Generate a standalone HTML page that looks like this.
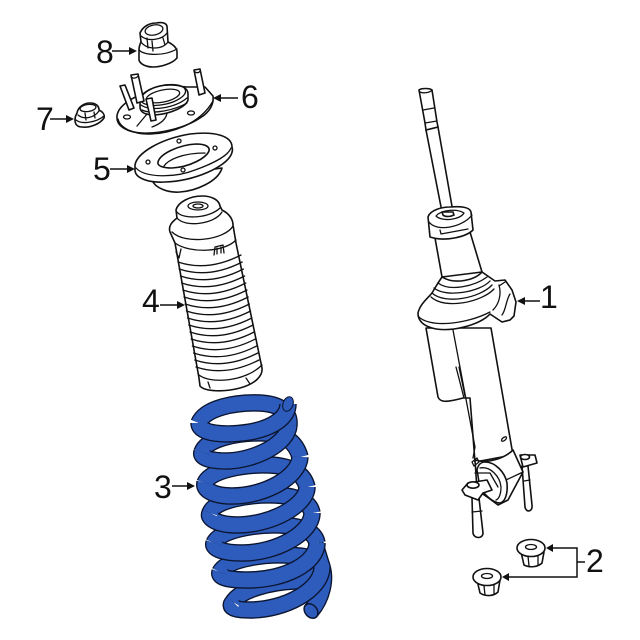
<!DOCTYPE html>
<html><head><meta charset="utf-8"><style>
html,body{margin:0;padding:0;background:#fff}
svg{display:block}
.l{fill:#fff;stroke:#111;stroke-width:1.6;stroke-linejoin:round;stroke-linecap:round}
.n{fill:none;stroke:#111;stroke-width:1.3;stroke-linejoin:round;stroke-linecap:round}
.a{fill:none;stroke:#111;stroke-width:1.5}
.h{fill:#111}
text{font-family:"Liberation Sans",sans-serif;font-size:32px;fill:#111}
.o{fill:none;stroke:#0b1530;stroke-width:17.5;stroke-linecap:butt}
.b{fill:none;stroke:#2e5cbd;stroke-width:14.8;stroke-linecap:butt}
</style></head><body>
<svg width="640" height="640" viewBox="0 0 640 640" xmlns="http://www.w3.org/2000/svg">
<rect width="640" height="640" fill="#fff"/>
<defs>
<path id="r" d="M178 262Q208 272 241 255"/>
<path id="k1" d="M199 423C205 408 235 402 260 403C280 404 290 412 289 425"/>
<path id="k2" d="M202 452C207 438 240 432 265 433C285 434 296 442 300 457"/>
<path id="k3" d="M205 483C210 470 245 464 270 465C292 466 304 474 307 487"/>
<path id="k4" d="M210 513C214 500 250 494 275 495C298 496 310 502 312 513"/>
<path id="k5" d="M214 543C220 530 255 524 280 525C302 526 315 532 317 543"/>
<path id="k6" d="M220 572C226 560 260 554 285 555C308 556 320 558 322 567"/>
<path id="k7" d="M233 602C240 590 270 582 295 581C312 580 320 575 322 567C326 580 322 598 311 611"/>
<path id="f1" d="M199 423C199 434 225 436 250 432C272 428 288 418 288 404"/>
<path id="f2" d="M289 425C288 444 255 460 228 461C210 461 200 458 202 452"/>
<path id="f3" d="M300 457C299 477 265 496 232 496C214 496 203 490 205 483"/>
<path id="f4" d="M307 487C307 505 272 525 237 525C219 525 207 519 210 513"/>
<path id="f5" d="M312 513C312 533 277 553 242 553C224 553 212 549 214 543"/>
<path id="f6" d="M317 543C317 563 285 580 248 580C230 580 218 578 220 572"/>
<path id="f7" d="M322 567C322 590 285 610 250 610C234 610 228 607 233 602"/>
</defs>

<!-- 8 -->
<path class="l" d="M139 50C139 46 140 44 141 42L140 33C143 26 150 23 156 23C162 22 166 23 167 26L168 42C174 45 177 48 177 52L177 58C172 64 160 67 153 67C146 67 140 64 139 60Z"/>
<ellipse class="n" cx="154" cy="30" rx="9" ry="5" transform="rotate(-12 154 30)"/>
<path class="n" d="M139 50C145 56 165 56 177 49M141 42C147 50 162 50 168 42M141 36C148 42 162 40 167 33M152 41L153 51M163 38L165 45M147 38L148 48"/>

<!-- 6 plate -->
<path class="l" d="M117 116C118 106 132 97 148 92L165 85L187 87L205 87L213 96C214 104 210 112 200 118C185 128 160 134 142 133C125 132 116 125 117 116Z"/>
<path class="n" d="M118 119C120 128 134 135 152 134C172 133 200 124 213 101"/>
<path class="n" d="M137 126L147 114L167 113C166 120 160 124 152 127"/>
<ellipse class="n" cx="127" cy="117" rx="3.5" ry="2"/><ellipse class="n" cx="191" cy="113" rx="3.5" ry="2"/>
<path class="l" d="M140 101C141 92 155 85 170 85C182 85 188 88 188 94L188 100C186 107 170 114 155 115C145 115 140 112 140 107Z"/>
<ellipse class="n" cx="163" cy="95" rx="23" ry="9.5" transform="rotate(-12 163 95)"/>
<ellipse class="n" cx="163" cy="96" rx="17" ry="6" transform="rotate(-12 163 96)"/>
<path class="n" d="M141 105C150 112 175 108 187 98M142 110C152 115 175 110 187 103"/>
<path class="l" d="M120 86L125 85L134 108L129 110ZM131 75L138 74L144 101L137 103ZM194 70L200 69L205 93L199 95ZM146 99L152 98L156 120L151 121Z"/>
<path class="n" d="M131 77C133 79 137 78 138 76M195 72C197 73 199 73 200 71"/>

<!-- 7 -->
<path class="l" d="M75 120C75 116 76 115 77 113C78 107 84 103 90 103C96 103 99 106 99 110C103 112 105 115 104 118C100 124 90 128 82 127C77 127 75 124 75 120Z"/>
<ellipse class="n" cx="88" cy="108" rx="8" ry="3.5" transform="rotate(-8 88 108)"/>
<path class="n" d="M76 120C82 125 97 122 104 116M78 115C84 120 94 118 99 111M85 113L86 120M94 112L95 118"/>

<!-- 5 -->
<path class="l" d="M152 180C155 188 168 193 180 192C195 191 218 182 222 168L152 178Z"/>
<path class="l" d="M135 165C137 153 160 139 190 134C215 131 232 136 232 147C233 150 232 153 231 155C225 167 195 181 165 182C148 183 135 178 135 170Z"/>
<path class="n" d="M136 168C145 178 175 178 195 170C212 164 228 156 231 148"/>
<path class="l" d="M158 162C160 154 178 145 196 144C206 144 210 147 209 151C206 158 190 167 172 168C163 168 157 166 158 162Z"/>
<path class="n" d="M164 166C168 160 182 153 205 153"/>
<circle class="n" cx="148" cy="162" r="2"/><circle class="n" cx="179" cy="141" r="2"/><circle class="n" cx="215" cy="148" r="2"/><circle class="n" cx="183" cy="170" r="2"/>

<!-- 4 -->
<path class="l" d="M175 243L170 232C168 226 172 222 177 218L176 210C178 202 190 196 202 196C212 196 219 200 220 206L222 210C230 214 233 220 233 225L236 243L262 368C263 376 255 384 240 388C225 392 205 392 200 386L199 378Z"/>
<path class="n" d="M177 212C183 220 210 218 220 208M177 218C185 228 215 224 222 212M172 232C185 245 225 240 233 226M175 243C190 254 225 252 236 240"/>
<ellipse class="n" cx="198" cy="206" rx="10" ry="4"/><ellipse class="n" cx="198" cy="206" rx="5" ry="2"/>
<path class="n" d="M214 255L215 247L223 245L224 253M217 254L217 248M221 253L221 247M176 252L179 258L181 249"/>
<g class="n">
<use href="#r"/><use href="#r" transform="translate(1.2 7)"/><use href="#r" transform="translate(2.4 14)"/><use href="#r" transform="translate(3.6 21)"/><use href="#r" transform="translate(4.8 28)"/><use href="#r" transform="translate(6 35)"/><use href="#r" transform="translate(7.2 42)"/><use href="#r" transform="translate(8.4 49)"/><use href="#r" transform="translate(9.6 56)"/><use href="#r" transform="translate(10.8 63)"/><use href="#r" transform="translate(12 70)"/><use href="#r" transform="translate(13.2 77)"/><use href="#r" transform="translate(14.4 84)"/><use href="#r" transform="translate(15.6 91)"/><use href="#r" transform="translate(16.8 98)"/><use href="#r" transform="translate(18 105)"/>
</g>
<path class="n" d="M199 375C210 384 245 382 262 365M208 382L210 388M246 378L250 384"/>

<!-- 3 spring -->
<g class="o"><use href="#k7"/><use href="#k6"/><use href="#k5"/><use href="#k4"/><use href="#k3"/><use href="#k2"/><use href="#k1"/></g>
<g class="b"><use href="#k7"/><use href="#k6"/><use href="#k5"/><use href="#k4"/><use href="#k3"/><use href="#k2"/><use href="#k1"/></g>
<use href="#f7" class="o"/><use href="#f7" class="b"/>
<use href="#f6" class="o"/><use href="#f6" class="b"/>
<use href="#f5" class="o"/><use href="#f5" class="b"/>
<use href="#f4" class="o"/><use href="#f4" class="b"/>
<use href="#f3" class="o"/><use href="#f3" class="b"/>
<use href="#f2" class="o"/><use href="#f2" class="b"/>
<use href="#f1" class="o"/><use href="#f1" class="b"/>
<ellipse cx="311" cy="611" rx="6" ry="8" transform="rotate(-40 311 611)" fill="#2e5cbd" stroke="#0b1530" stroke-width="1.5"/>
<ellipse cx="288" cy="404" rx="7.5" ry="5" transform="rotate(-70 288 404)" fill="#2e5cbd" stroke="#0b1530" stroke-width="1"/>

<!-- 1 strut -->
<path class="l" d="M426 328L438 397C440 402 445 403 463 398L470 398L475 462L513 455L491 328Z"/>
<path class="n" d="M453 330L475 447L473 458M456 367L464 398M459 367L465 396"/>
<ellipse class="n" cx="504" cy="439" rx="3" ry="1.5" transform="rotate(-40 504 439)"/>
<!-- rod -->
<path class="l" d="M426 130L442 212L453 212L438 127Z"/>
<path class="l" d="M419 90C421 88 430 88 432 90L437 122L438 127L426 130L425 123Z"/>
<path class="n" d="M419 91C421 94 430 93 432 90M423 110L434 108M425 123L437 121"/>
<!-- neck -->
<path class="l" d="M435 238L442 277L482 272L470 232Z"/>
<path class="l" d="M428 217C430 210 442 207 450 207C460 206 470 207 471 212L473 230C466 237 445 242 430 237Z"/>
<path class="n" d="M429 222C436 232 462 228 472 215M440 230L441 234L468 229"/>
<path class="n" d="M436 216C442 209 458 209 464 213C460 220 442 222 436 216Z"/>
<path class="l" d="M442 212L453 212L454 215C450 217 445 217 443 215Z"/>
<!-- mount -->
<path class="l" d="M418 313C420 304 428 298 432 293L438 283L442 277C455 285 475 280 482 272L495 281L505 280L512 290L516 302L514 316L510 320L502 322L490 314C480 325 450 333 432 328C425 326 418 322 418 313Z"/>
<path class="n" d="M432 293C445 305 480 298 492 285M434 288C446 298 480 292 490 281M438 283C450 292 475 286 487 277M431 297C445 310 482 302 494 289M418 316C428 328 465 325 490 312M499 285C502 296 498 305 493 310M510 294C506 300 506 310 502 315M499 286L505 282"/>
<!-- right bracket and stud -->
<path class="l" d="M522 466L528 466L532 505C533 512 526 513 525 507Z"/>
<path class="n" d="M524 481L530 480"/>
<path class="l" d="M520 455L535 455L537 463L523 467Z"/>
<ellipse class="l" cx="525" cy="457" rx="4.5" ry="2.5"/>
<!-- body -->
<path class="l" d="M475 460C488 464 505 458 513 450L523 472L508 500L498 505L490 499L477 490Z"/>
<path class="l" d="M477 470C478 465 481 462 485 462C495 462 505 472 507 483C508 494 505 502 500 503C493 503 485 495 480 488Z"/>
<path class="n" d="M480 468C490 466 500 476 501 487C501 494 499 499 496 500"/>
<path class="n" d="M475 473L490 473L498 487"/>
<path class="n" d="M506 480L523 472"/>
<!-- left stud + bracket -->
<path class="l" d="M472 498L479 498L483 533C483 539 474 539 473 533Z"/>
<path class="n" d="M472 512L482 511"/>
<path class="l" d="M462 490L468 483L487 480L492 490L483 493L478 500L465 495Z"/>
<ellipse class="l" cx="473" cy="485" rx="6" ry="3.2"/>
<path class="n" d="M472 462L477 458L479 462L474 466Z"/>

<!-- 2 nuts -->
<path class="l" d="M521 552L524 565C530 568 538 567 542 563L544 552Z"/>
<ellipse class="l" cx="531" cy="548" rx="14" ry="8.5"/><ellipse class="n" cx="531" cy="547" rx="5.5" ry="2.5"/>
<path class="n" d="M528 556L529 566M538 556L538 565"/>
<path class="l" d="M477 580L480 593C486 597 494 596 498 592L500 580Z"/>
<ellipse class="l" cx="487" cy="577" rx="14" ry="8.5"/><ellipse class="n" cx="487" cy="576" rx="5.5" ry="2.5"/>
<path class="n" d="M484 586L485 595M494 585L494 594"/>

<!-- arrows -->
<g class="a">
<path d="M112 51H130M220 98H238M50 119H68M110 169H128M160 305H178M172 486H188M523 301H540"/>
<path d="M553 548H577V577H509M577 562H585"/>
</g>
<g class="h">
<path d="M137 51L129 47V55ZM213 98L221 94V102ZM74 119L66 115V123ZM135 169L127 165V173ZM185 305L177 301V309ZM195 486L187 482V490ZM517 301L525 297V305ZM546 548L553 544V552ZM502 577L509 573V581Z"/>
</g>

<text x="96" y="63">8</text>
<text x="241" y="108">6</text>
<text x="36" y="130">7</text>
<text x="93" y="180">5</text>
<text x="142" y="312">4</text>
<text x="154" y="498">3</text>
<text x="540" y="308">1</text>
<text x="586" y="572">2</text>
</svg>
</body></html>
